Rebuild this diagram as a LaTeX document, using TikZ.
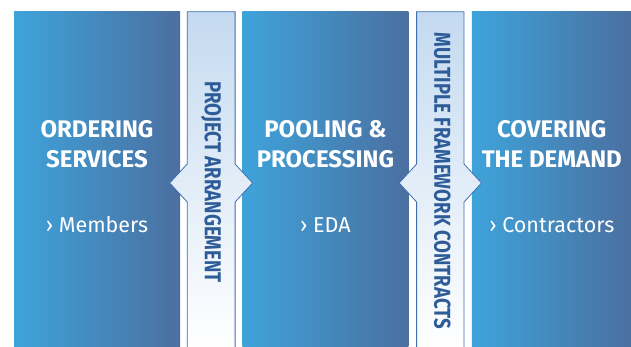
\documentclass[tikz,border=0pt]{standalone}
\usepackage{fontspec}
\setmainfont{Fira Sans}
\usetikzlibrary{positioning,calc}

\definecolor{boxL}{RGB}{62,163,218}
\definecolor{boxR}{RGB}{75,111,160}
\definecolor{bandT}{RGB}{196,218,240}
\definecolor{bandE}{RGB}{63,110,178}
\definecolor{bandTxt}{RGB}{45,92,152}

\tikzstyle{box} = [rectangle, inner sep=0pt,
minimum width=166pt, minimum height=336pt,
left color=boxL, right color=boxR]
\tikzstyle{band} = [rectangle, inner sep=0pt, minimum width=47.5pt, minimum height=336pt]
\tikzstyle{bandfill} = [draw=bandE, line width=0.8pt, top color=bandT, bottom color=white]
\tikzstyle{title} = [align=center, text=white, font=\bfseries\fontsize{24}{30}\selectfont]
\tikzstyle{sub} = [text=white, font=\fontsize{21.5}{25}\selectfont]
\tikzstyle{bandtext} = [text=bandTxt, rotate=-90, inner sep=0pt, font=\bfseries\fontsize{23}{27}\selectfont]

\begin{document}
\begin{tikzpicture}[x=1pt, y=1pt]
    \useasboundingbox (0,0) rectangle (631,347);

    \node[box]                                    (order) at (97,167) {};
    \node[box, right=62pt of order]               (pool)  {};
    \node[box, minimum width=160pt, right=63pt of pool] (cover) {};

    \node[title] (ordertitle) at ([yshift=-132pt]order.north) {ORDERING\\SERVICES};
    \node[title] (pooltitle)  at ([yshift=-132pt]pool.north)  {POOLING \&\\PROCESSING};
    \node[title] (covertitle) at ([yshift=-132pt]cover.north) {COVERING\\THE DEMAND};

    \node[sub] (ordersub) at ([yshift=-213pt]order.north) {› Members};
    \node[sub] (poolsub)  at ([yshift=-213pt]pool.north)  {› EDA};
    \node[sub] (coversub) at ([yshift=-213pt]cover.north) {› Contractors};

    % bands between the boxes
    \node[band, right=7pt of order]                   (proj)  {};
    \node[band, minimum width=47pt, right=8pt of pool] (multi) {};

    \foreach \b in {proj, multi}{
        \path[bandfill] (\b.north west) -- ($(\b.west)+(0,16)$) -- ($(\b.west)+(-17.5,-3)$)
            -- ($(\b.west)+(0,-22)$) -- ($(\b.south west)+(0,-2)$) -- ($(\b.south east)+(0,-2)$)
            -- ($(\b.east)+(0,-22)$) -- ($(\b.east)+(17.5,-3)$) -- ($(\b.east)+(0,16)$)
            -- (\b.north east) -- cycle;
    }

    \node[bandtext] (projtext)  at ([yshift=-2pt]proj.center)  {\scalebox{0.81}[1]{PROJECT ARRANGEMENT}};
    \node[bandtext] (multitext) at ([xshift=2pt, yshift=-1pt]multi.center) {\scalebox{0.81}[1]{MULTIPLE FRAMEWORK CONTRACTS}};
\end{tikzpicture}
\end{document}
